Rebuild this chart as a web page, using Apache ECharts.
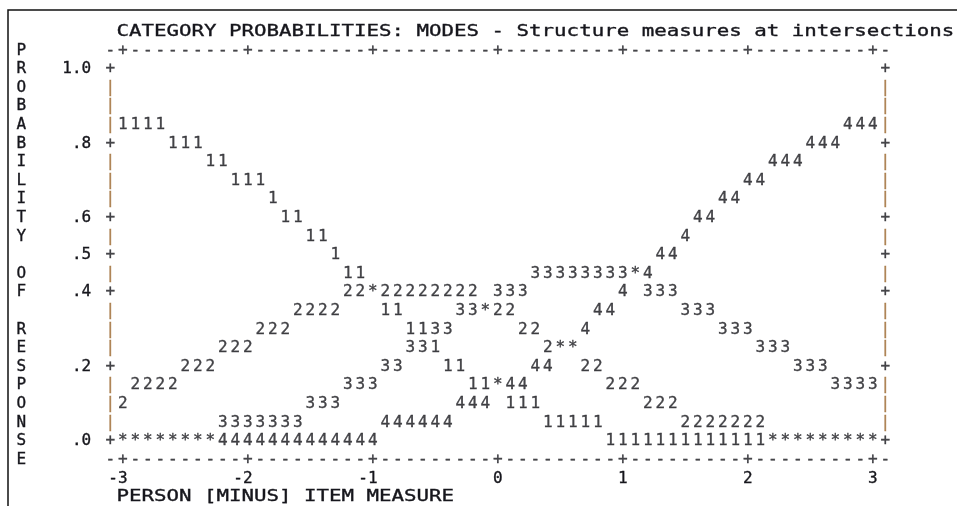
<!DOCTYPE html>
<html>
<head>
<meta charset="utf-8">
<script src="https://cdn.jsdelivr.net/npm/echarts@6/dist/echarts.min.js"></script>
<style>
  html, body { margin: 0; padding: 0; background: #fff; }
  #chart { width: 957px; height: 506px; }
</style>
</head>
<body>
<div id="chart"></div>
<script>
// Winsteps-style category probability plot, printed as a character grid
const chartTitle = 'CATEGORY PROBABILITIES: MODES - Structure measures at intersections';
const xTitle = 'PERSON [MINUS] ITEM MEASURE';
const yTitle = 'PROBABILITY OF RESPONSE';

const xTicks = [-3, -2, -1, 0, 1, 2, 3];
const yTicks = [1.0, 0.8, 0.6, 0.5, 0.4, 0.2, 0.0];
const yTickLabels = ['1.0', '.8', '.6', '.5', '.4', '.2', '.0'];

// one printed row per probability level (top to bottom)
const rowProbs = [1.0, 0.95, 0.9, 0.85, 0.8, 0.75, 0.7, 0.65, 0.6, 0.55, 0.5,
  0.45, 0.4, 0.35, 0.3, 0.25, 0.2, 0.15, 0.1, 0.05, 0.0];

// printed runs on each row: [measure of first char, text]; one char per 0.1 logit
const rowMarks = [
  [],
  [],
  [],
  [[-3.0, '1111'], [2.8, '444']],
  [[-2.6, '111'], [2.5, '444']],
  [[-2.3, '11'], [2.2, '444']],
  [[-2.1, '111'], [2.0, '44']],
  [[-1.8, '1'], [1.8, '44']],
  [[-1.7, '11'], [1.6, '44']],
  [[-1.5, '11'], [1.5, '4']],
  [[-1.3, '1'], [1.3, '44']],
  [[-1.2, '11'], [0.3, '33333333*4']],
  [[-1.2, '22*22222222'], [0.0, '333'], [1.0, '4'], [1.2, '333']],
  [[-1.6, '2222'], [-0.9, '11'], [-0.3, '33*22'], [0.8, '44'], [1.5, '333']],
  [[-1.9, '222'], [-0.7, '1133'], [0.2, '22'], [0.7, '4'], [1.8, '333']],
  [[-2.2, '222'], [-0.7, '331'], [0.4, '2**'], [2.1, '333']],
  [[-2.5, '222'], [-0.9, '33'], [-0.4, '11'], [0.3, '44'], [0.7, '22'], [2.4, '333']],
  [[-2.9, '2222'], [-1.2, '333'], [-0.2, '11*44'], [0.9, '222'], [2.7, '3333']],
  [[-3.0, '2'], [-1.5, '333'], [-0.3, '444 111'], [1.2, '222']],
  [[-2.2, '3333333'], [-0.9, '444444'], [0.4, '11111'], [1.5, '2222222']],
  [[-3.0, '********4444444444444'], [0.9, '1111111111111*********']]
];

const FONT = '"DejaVu Sans Mono", "Liberation Mono", monospace';
const INK = '#16161c';
const PIPE = '#9c6a32';
const WEIGHT = 0.35; // extra stroke to match the heavier screen glyphs

const X_MIN = -3.1, X_MAX = 3.1;   // frame columns
const Y_MIN = -0.05, Y_MAX = 1.05; // frame rows

// plot characters
const plotChars = [];
rowMarks.forEach((runs, r) => {
  runs.forEach(([start, text]) => {
    text.split('').forEach((ch, i) => {
      if (ch === ' ') return;
      plotChars.push({ name: ch, value: [Math.round(start * 10 + i) / 10, rowProbs[r]] });
    });
  });
});

// frame: '+' at ticks, '|' between on the sides, '-' along top and bottom
const framePlus = [];
const framePipes = [];
rowProbs.forEach(p => {
  const isTick = yTicks.some(t => Math.abs(t - p) < 1e-9);
  [X_MIN, X_MAX].forEach(x => {
    if (isTick) framePlus.push({ name: '+', value: [x, p] });
    else framePipes.push({ name: '|', value: [x, p] });
  });
});
for (let k = Math.round(X_MIN * 10); k <= Math.round(X_MAX * 10); k++) {
  const x = k / 10;
  const ch = xTicks.includes(x) ? '+' : '-';
  [Y_MIN, Y_MAX].forEach(y => framePlus.push({ name: ch, value: [x, y] }));
}

const textStyle = (color) => ({
  fontFamily: FONT,
  fontSize: 16,
  color: color,
  textBorderColor: color,
  textBorderWidth: WEIGHT
});

const charSeries = (name, data, color) => ({
  name: name,
  type: 'scatter',
  data: data,
  symbol: 'circle',
  symbolSize: 1,
  itemStyle: { color: 'rgba(0,0,0,0)' },
  label: Object.assign({
    show: true,
    position: 'inside',
    formatter: '{b}',
    align: 'center',
    verticalAlign: 'middle'
  }, textStyle(color)),
  clip: false,
  silent: true
});

const chart = echarts.init(document.getElementById('chart'), null, { renderer: 'canvas' });

chart.setOption({
  animation: false,
  backgroundColor: '#ffffff',
  grid: {
    left: 110.2,
    right: 71.8,
    top: 50.4,
    bottom: 46.4,
    outerBoundsMode: 'none'
  },
  xAxis: {
    type: 'value',
    min: X_MIN,
    max: X_MAX,
    axisLine: { show: false },
    axisTick: { show: false },
    splitLine: { show: false },
    axisLabel: Object.assign({
      customValues: xTicks,
      formatter: v => (v < 0 ? v + ' ' : String(v)),
      margin: 11
    }, textStyle(INK))
  },
  yAxis: {
    type: 'value',
    min: Y_MIN,
    max: Y_MAX,
    axisLine: { show: false },
    axisTick: { show: false },
    splitLine: { show: false },
    axisLabel: Object.assign({
      customValues: yTicks,
      formatter: v => {
        const i = yTicks.findIndex(t => Math.abs(t - v) < 1e-9);
        return i >= 0 ? yTickLabels[i] : '';
      },
      margin: 19
    }, textStyle(INK)),
    name: yTitle.split('').join('\n'),
    nameLocation: 'middle',
    nameRotate: 0,
    nameGap: 89,
    nameTextStyle: Object.assign({
      align: 'center',
      verticalAlign: 'middle',
      lineHeight: 18.6
    }, textStyle(INK))
  },
  graphic: [
    {
      type: 'rect',
      silent: true,
      shape: { x: 8, y: 10, width: 1000, height: 600 },
      style: { fill: 'none', stroke: '#111', lineWidth: 1.5 }
    },
    {
      type: 'text',
      x: 116.5,
      y: 31.8,
      scaleX: 1.298,
      style: {
        text: chartTitle, font: '16px ' + FONT, fill: INK,
        stroke: INK, lineWidth: WEIGHT, verticalAlign: 'middle'
      }
    },
    {
      type: 'text',
      x: 116.5,
      y: 496.8,
      scaleX: 1.298,
      style: {
        text: xTitle, font: '16px ' + FONT, fill: INK,
        stroke: INK, lineWidth: WEIGHT, verticalAlign: 'middle'
      }
    }
  ],
  series: [
    charSeries('frame', framePlus, INK),
    charSeries('frame sides', framePipes, PIPE),
    charSeries('categories', plotChars, INK)
  ]
});
</script>
</body>
</html>
